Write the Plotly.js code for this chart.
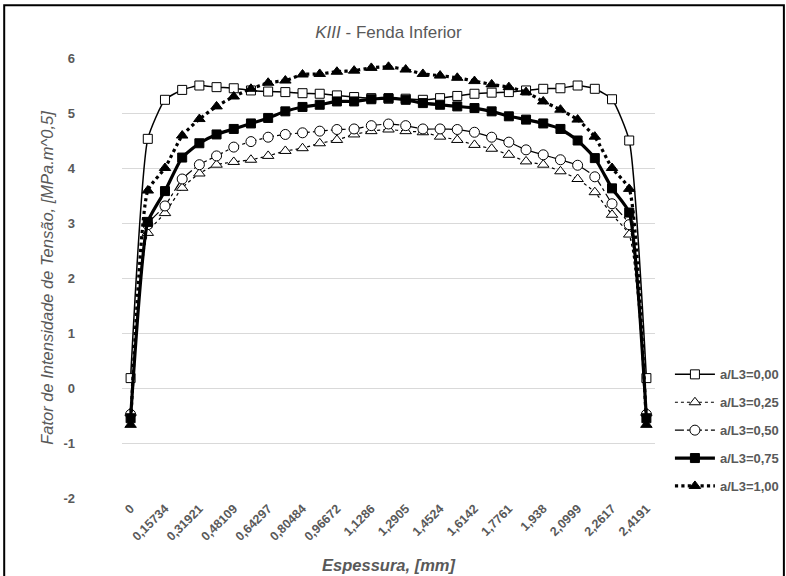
<!DOCTYPE html>
<html>
<head>
<meta charset="utf-8">
<script src="https://cdn.plot.ly/plotly-3.0.1.min.js"></script>
<style>html,body{margin:0;padding:0;background:#fff;}#chart{width:786px;height:576px;}</style>
</head>
<body>
<div id="chart"></div>
<script>
// Tick labels (shown on every second point)
const tickLabels = ["0","0,15734","0,31921","0,48109","0,64297","0,80484","0,96672","1,1286","1,2905","1,4524","1,6142","1,7761","1,938","2,0999","2,2617","2,4191"];
const yTickValues = [-2,-1,0,1,2,3,4,5,6];
const yTickLabels = ["-2","-1","0","1","2","3","4","5","6"];
// point index along the thickness (31 points)
const pointIndex = [0,1,2,3,4,5,6,7,8,9,10,11,12,13,14,15,16,17,18,19,20,21,22,23,24,25,26,27,28,29,30];

const seriesNames = ["a/L3=0,00","a/L3=0,25","a/L3=0,50","a/L3=0,75","a/L3=1,00"];

const k000 = [0.18,4.53,5.24,5.42,5.50,5.47,5.45,5.41,5.39,5.38,5.36,5.35,5.32,5.29,5.27,5.26,5.26,5.24,5.27,5.31,5.35,5.37,5.38,5.41,5.44,5.45,5.50,5.44,5.25,4.50,0.18];
const k025 = [-0.45,2.82,3.18,3.64,3.90,4.06,4.11,4.15,4.22,4.31,4.36,4.45,4.51,4.61,4.67,4.70,4.67,4.65,4.57,4.51,4.42,4.35,4.24,4.12,4.06,3.94,3.80,3.56,3.15,2.79,-0.45];
const k050 = [-0.48,2.97,3.31,3.80,4.06,4.22,4.38,4.48,4.56,4.61,4.64,4.67,4.70,4.71,4.77,4.80,4.77,4.71,4.71,4.70,4.65,4.56,4.47,4.33,4.24,4.15,4.05,3.84,3.35,2.97,-0.48];
const k075 = [-0.55,3.02,3.58,4.19,4.45,4.61,4.71,4.81,4.91,5.03,5.11,5.15,5.21,5.21,5.25,5.27,5.24,5.18,5.15,5.12,5.09,5.03,4.94,4.88,4.81,4.71,4.50,4.18,3.63,3.19,-0.55];
const k100 = [-0.67,3.59,4.00,4.59,4.89,5.12,5.30,5.44,5.55,5.59,5.70,5.71,5.75,5.77,5.82,5.84,5.79,5.71,5.68,5.64,5.58,5.52,5.47,5.38,5.21,5.06,4.88,4.57,4.00,3.62,-0.67];

const values = [k000,k025,k050,k075,k100];
const lineStyles = [
  {width:1.5, dash:'solid'},
  {width:1.2, dash:'dot'},
  {width:1.2, dash:'dashdot'},
  {width:3.2, dash:'solid'},
  {width:3.2, dash:'dot'}
];
const markerStyles = [
  {symbol:'square', size:9, color:'#ffffff', line:{color:'#000', width:1}},
  {symbol:'triangle-up', size:10, color:'#ffffff', line:{color:'#000', width:1}},
  {symbol:'circle', size:10, color:'#ffffff', line:{color:'#000', width:1}},
  {symbol:'square', size:9, color:'#000', line:{color:'#000', width:1}},
  {symbol:'triangle-up', size:10, color:'#000', line:{color:'#000', width:1}}
];

const traces = values.map((v,i)=>({
  type:'scatter', mode:'lines+markers',
  x: pointIndex, y: v, name: seriesNames[i],
  legendgroup: 'g'+i,
  line: Object.assign({color:'#000', shape:'spline', smoothing:0.5}, lineStyles[i]),
  marker: markerStyles[i]
}));

const tickVals = tickLabels.map((_,i)=>i*2);
const grey = '#595959';

const layout = {
  width:786, height:576,
  margin:{l:122, r:131, t:58, b:78, autoexpand:false},
  paper_bgcolor:'#fff', plot_bgcolor:'#fff',
  font:{family:'"Liberation Sans", Arial, sans-serif', color:grey},
  showlegend:true,
  title:{text:'<i>KIII</i> - Fenda Inferior', x:0.5, xref:'paper', y:0.945, yref:'container', yanchor:'middle',
         font:{size:17, color:grey}},
  xaxis:{
    range:[-0.5,30.5], tickvals:tickVals, ticktext:tickLabels, tickangle:-45,
    showgrid:false, zeroline:false, showline:false, ticks:'',
    tickfont:{size:12.5, color:grey, weight:'bold'},
    title:{text:'<b><i>Espessura, [mm]</i></b>', font:{size:16.5, color:grey}, standoff:16}
  },
  yaxis:{
    range:[-2,6], tickvals:yTickValues, ticktext:yTickLabels, showgrid:true, gridcolor:'#d9d9d9', gridwidth:1,
    zeroline:true, zerolinecolor:'#d9d9d9', zerolinewidth:1, showline:false, ticks:'',
    ticklabelstandoff:46,
    tickfont:{size:13, color:grey, weight:'bold'},
    title:{text:'<i>Fator de Intensidade de Tensão, [MPa.m^0,5]</i>', font:{size:16.5, color:grey}, standoff:5}
  },
  legend:{
    x:1.028, xanchor:'left', y:0.315, yanchor:'top',
    traceorder:'grouped', tracegroupgap:8, itemwidth:40,
    font:{size:13, color:grey, weight:'bold'},
    bgcolor:'rgba(0,0,0,0)'
  },
  shapes:[{type:'rect', xref:'paper', yref:'paper', x0:-0.221, x1:1.2418, y0:-0.2, y1:1.12,
           line:{color:'#000', width:2}, fillcolor:'rgba(0,0,0,0)', layer:'above'}]
};

Plotly.newPlot('chart', traces, layout, {displayModeBar:false, staticPlot:true});
</script>
</body>
</html>
